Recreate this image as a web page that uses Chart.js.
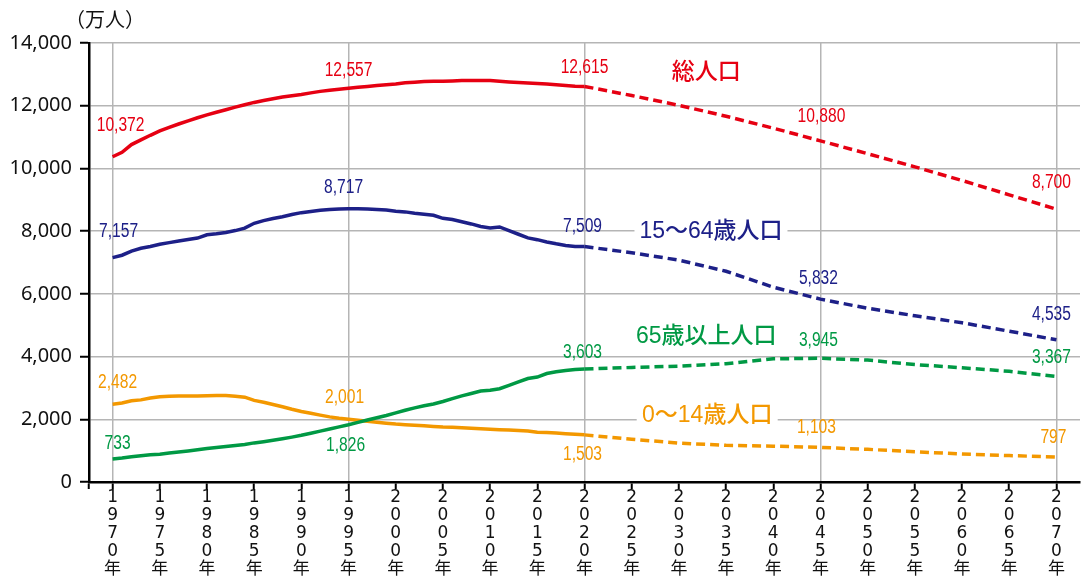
<!DOCTYPE html>
<html lang="ja">
<head>
<meta charset="utf-8">
<title>日本の人口推移</title>
<script src="https://cdn.jsdelivr.net/npm/chart.js@4/dist/chart.umd.min.js"></script>
<style>
  html, body { margin: 0; padding: 0; background: #fff; }
  #popChart { display: block; }
</style>
</head>
<body>
<canvas id="popChart" width="1084" height="578"></canvas>
<script>
// 年（実績は毎年、2020年以降は5年毎の推計）
const years = [
  1970, 1971, 1972, 1973, 1974, 1975, 1976, 1977, 1978, 1979,
  1980, 1981, 1982, 1983, 1984, 1985, 1986, 1987, 1988, 1989,
  1990, 1991, 1992, 1993, 1994, 1995, 1996, 1997, 1998, 1999,
  2000, 2001, 2002, 2003, 2004, 2005, 2006, 2007, 2008, 2009,
  2010, 2011, 2012, 2013, 2014, 2015, 2016, 2017, 2018, 2019,
  2020, 2025, 2030, 2035, 2040, 2045, 2050, 2055, 2060, 2065, 2070
];

// 総人口（万人）
const totalPop = [
  10372, 10515, 10760, 10910, 11057, 11194, 11309, 11417, 11519, 11616,
  11706, 11790, 11873, 11954, 12031, 12105, 12166, 12224, 12275, 12321,
  12361, 12410, 12457, 12494, 12527, 12557, 12586, 12616, 12647, 12667,
  12693, 12732, 12749, 12769, 12779, 12777, 12790, 12803, 12808, 12803,
  12806, 12783, 12759, 12741, 12724, 12709, 12693, 12671, 12644, 12617,
  12615, 12326, 12012, 11664, 11284, 10880, 10469, 10051, 9615, 9159, 8700
];

// 15～64歳人口
const workingPop = [
  7157, 7232, 7363, 7452, 7510, 7581, 7634, 7685, 7734, 7779,
  7883, 7917, 7959, 8018, 8095, 8251, 8335, 8401, 8457, 8533,
  8590, 8628, 8669, 8689, 8704, 8717, 8716, 8704, 8692, 8676,
  8638, 8614, 8571, 8540, 8508, 8409, 8373, 8301, 8230, 8149,
  8103, 8134, 8018, 7901, 7785, 7728, 7656, 7596, 7545, 7507,
  7509, 7310, 7076, 6722, 6213, 5832, 5540, 5302, 5078, 4809, 4535
];

// 65歳以上人口
const elderlyPop = [
  733, 762, 805, 839, 868, 887, 924, 958, 991, 1027,
  1065, 1101, 1135, 1167, 1195, 1247, 1287, 1331, 1379, 1431,
  1489, 1555, 1622, 1690, 1759, 1826, 1902, 1976, 2051, 2119,
  2204, 2287, 2363, 2431, 2488, 2567, 2660, 2746, 2822, 2901,
  2925, 2975, 3079, 3190, 3300, 3347, 3459, 3515, 3558, 3589,
  3603, 3653, 3696, 3773, 3928, 3945, 3888, 3744, 3644, 3529, 3367
];

// 0～14歳人口
const childPop = [
  2482, 2521, 2592, 2619, 2678, 2722, 2735, 2741, 2745, 2741,
  2751, 2760, 2755, 2738, 2705, 2603, 2543, 2470, 2399, 2320,
  2249, 2190, 2132, 2077, 2033, 2001, 1969, 1937, 1906, 1874,
  1847, 1827, 1810, 1791, 1773, 1752, 1744, 1729, 1718, 1701,
  1684, 1670, 1655, 1639, 1623, 1589, 1578, 1559, 1542, 1521,
  1503, 1363, 1240, 1169, 1142, 1103, 1041, 966, 893, 842, 797
];

const seriesNames = ['総人口', '15～64歳人口', '65歳以上人口', '0～14歳人口'];
const xTickYears = [1970, 1975, 1980, 1985, 1990, 1995, 2000, 2005, 2010, 2015, 2020,
  2025, 2030, 2035, 2040, 2045, 2050, 2055, 2060, 2065, 2070];
const gridYears = [1970, 1995, 2020, 2045, 2070];
const labelYears = [1970, 1995, 2020, 2045, 2070];
const yTickValues = [0, 2000, 4000, 6000, 8000, 10000, 12000, 14000];
const lastActualYear = 2020;

function toPoints(values) {
  return years.map((yr, i) => ({ x: yr, y: values[i] }));
}

function makeSeries(name, values, color, nameStyle, labelOffsets) {
  return {
    label: name,
    data: toPoints(values),
    borderColor: color,
    backgroundColor: color,
    borderWidth: 3.5,
    pointRadius: 0,
    tension: 0,
    fill: false,
    segment: {
      borderDash: c => c.p0.parsed.x >= lastActualYear ? [9, 5] : undefined
    },
    nameStyle: nameStyle,
    labelOffsets: labelOffsets
  };
}

// 数値ラベルと系列名を描く
const textLabels = {
  id: 'textLabels',
  afterDatasetsDraw(chart) {
    const { ctx, scales: { x, y } } = chart;
    ctx.save();
    ctx.textAlign = 'center';
    ctx.textBaseline = 'middle';
    chart.data.datasets.forEach(ds => {
      ctx.fillStyle = ds.borderColor;
      ctx.font = '20px "Liberation Sans", Arial, sans-serif';
      labelYears.forEach((yr, i) => {
        const p = ds.data.find(d => d.x === yr);
        const [dx, dy] = ds.labelOffsets[i];
        ctx.save();
        ctx.translate(x.getPixelForValue(yr) + dx, y.getPixelForValue(p.y) + dy);
        ctx.scale(0.78, 1); // 細長い数字
        ctx.fillText(p.y.toLocaleString('en-US'), 0, 0);
        ctx.restore();
      });
      // 系列名（白地の上に）
      const s = ds.nameStyle;
      const nx = x.getPixelForValue(s.at[0]);
      const ny = y.getPixelForValue(s.at[1]);
      ctx.font = s.font;
      ctx.fillStyle = '#fff';
      ctx.fillRect(nx - s.width / 2 - 4, ny - 13, s.width + 8, 26);
      ctx.fillStyle = ds.borderColor;
      ctx.fillText(ds.label, nx, ny, s.width);
    });
    // 単位
    ctx.fillStyle = '#111';
    ctx.font = '20px "Noto Sans CJK JP", sans-serif';
    ctx.fillText('（万人）', 105, 19);
    ctx.restore();
  }
};

const nameFont = '500 23px "Liberation Sans", "Noto Sans CJK JP", sans-serif';
const ctx = document.getElementById('popChart').getContext('2d');

new Chart(ctx, {
  type: 'line',
  data: {
    datasets: [
      makeSeries(seriesNames[0], totalPop, '#E60012',
        { font: nameFont, at: [2032.9, 13040], width: 72 },
        [[8, -31], [0, -18], [0, -19], [1, -24], [-5, -27]]),
      makeSeries(seriesNames[1], workingPop, '#1D2088',
        { font: nameFont, at: [2033.4, 7970], width: 145 },
        [[6, -26], [-5, -21], [-2, -20], [-2, -21], [-5, -25]]),
      makeSeries(seriesNames[2], elderlyPop, '#009944',
        { font: nameFont, at: [2032.9, 4624], width: 142 },
        [[5, -16], [-3, 21], [-2, -17], [-2, -18], [-5, -19]]),
      makeSeries(seriesNames[3], childPop, '#F39800',
        { font: nameFont, at: [2033.0, 2130], width: 133 },
        [[5, -22], [-4, -22], [-2, 20], [-4, -20], [-3, -20]])
    ]
  },
  options: {
    responsive: false,
    devicePixelRatio: 1,
    animation: false,
    layout: { padding: { top: 43, right: 4, left: 0, bottom: 0 } },
    plugins: {
      legend: { display: false },
      tooltip: { enabled: false }
    },
    scales: {
      x: {
        type: 'linear',
        min: 1967.5,
        max: 2072.5,
        afterBuildTicks: scale => {
          scale.ticks = [1967.5, ...xTickYears].map(v => ({ value: v }));
        },
        afterFit: scale => { scale.height = 96; },
        grid: {
          color: c => gridYears.includes(c.tick && c.tick.value) ? '#b5b5b5' : 'rgba(0,0,0,0)',
          lineWidth: 1.5,
          tickColor: '#000',
          tickLength: 7,
          tickWidth: 2
        },
        border: { color: '#000', width: 2.5 },
        ticks: {
          autoSkip: false,
          maxRotation: 0,
          minRotation: 0,
          padding: 0,
          color: '#111',
          font: { family: '"DejaVu Sans", "Noto Sans CJK JP", sans-serif', size: 17, lineHeight: '18px' },
          callback: v => xTickYears.includes(v) ? (v + '年').split('') : ''
        }
      },
      y: {
        min: 0,
        max: 14000,
        afterBuildTicks: scale => {
          scale.ticks = yTickValues.map(v => ({ value: v }));
        },
        afterFit: scale => { scale.width = 89; },
        grid: {
          color: '#b5b5b5',
          lineWidth: 1.5,
          tickColor: '#000',
          tickLength: 9,
          tickWidth: 2
        },
        border: { color: '#000', width: 2.5 },
        ticks: {
          padding: 8,
          color: '#111',
          font: { family: '"Noto Sans", sans-serif', size: 20 },
          callback: v => v.toLocaleString('en-US')
        }
      }
    }
  },
  plugins: [textLabels]
});
</script>
</body>
</html>
